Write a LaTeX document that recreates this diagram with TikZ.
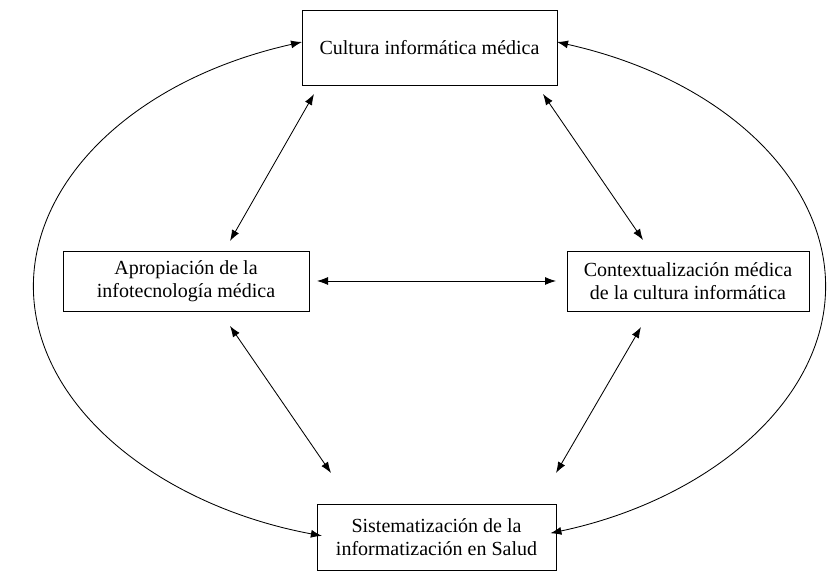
\documentclass[tikz,border=0pt]{standalone}
\usepackage{fontspec}
\setmainfont{Liberation Serif}
\usetikzlibrary{arrows.meta}
\begin{document}
\begin{tikzpicture}[x=1pt,y=1pt,
  box/.style={draw=black, line width=0.9pt, align=center, inner sep=0pt,
    font=\fontsize{20}{23.5}\selectfont},
  link/.style={line width=0.85pt, {Latex[length=11pt,width=8pt]}-{Latex[length=11pt,width=8pt]}}]
\useasboundingbox[fill=white] (0,0) rectangle (838,578);
\node[box, minimum width=255, minimum height=75] (top) at (429.5,530.5) {Cultura informática médica};
\node[box, minimum width=246, minimum height=60] (left) at (186,297) {Apropiación de la\\infotecnología médica};
\node[box, minimum width=242, minimum height=60] (right) at (688,297) {Contextualización médica\\de la cultura informática};
\node[box, minimum width=239, minimum height=66] (bot) at (436.5,41) {Sistematización de la\\informatización en Salud};
% free ends of the diagonal connectors
\coordinate (t1) at (314,484); \coordinate (l1) at (230,337);
\coordinate (t2) at (543,484); \coordinate (r1) at (643,338);
\coordinate (l2) at (317,297); \coordinate (r2) at (556,297);
\coordinate (l3) at (230,252); \coordinate (b1) at (331,105);
\coordinate (r3) at (641,251); \coordinate (b2) at (556,105);
\coordinate (arcL) at (302,536);
\coordinate (arcR) at (557,536);
\draw[link] (t1) -- (l1);
\draw[link] (t2) -- (r1);
\draw[link] (l2) -- (r2);
\draw[link] (l3) -- (b1);
\draw[link] (r3) -- (b2);
\draw[link] (arcL) arc[start angle=109, end angle=254, x radius=398, y radius=259];
\draw[link] (arcR) arc[start angle=71, end angle=-72, x radius=398, y radius=259];
\end{tikzpicture}
\end{document}
